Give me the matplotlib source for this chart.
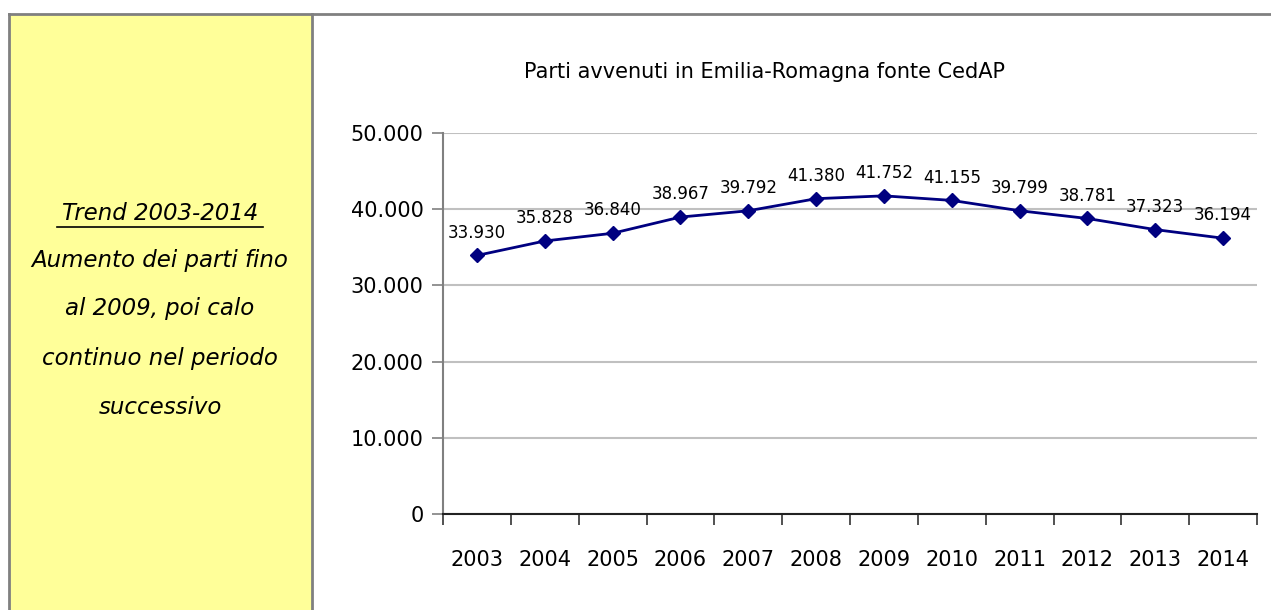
import numpy as np
import matplotlib.pyplot as plt
from matplotlib.patches import Rectangle
from matplotlib.lines import Line2D
from matplotlib.ticker import FuncFormatter

# Parti per anno (fonte CedAP)
anni = ['2003', '2004', '2005', '2006', '2007', '2008',
        '2009', '2010', '2011', '2012', '2013', '2014']
parti = [33930, 35828, 36840, 38967, 39792, 41380,
         41752, 41155, 39799, 38781, 37323, 36194]

titolo = "Parti avvenuti in Emilia-Romagna fonte CedAP"
nota = ["Aumento dei parti fino", "al 2009, poi calo",
        "continuo nel periodo", "successivo"]


def punti_migliaia(v, pos=None):
    return f"{int(v):,}".replace(",", ".")


fig = plt.figure(figsize=(12.71, 6.10), dpi=100)
W, H = 1271, 610

# pannello giallo a sinistra e cornice
fig.add_artist(Rectangle((9 / W, 0), (312 - 9) / W, 1 - 14 / H,
                         transform=fig.transFigure, facecolor='#ffff99',
                         edgecolor='none', zorder=0))
grigio = '#808080'
fig.add_artist(Line2D([9 / W, 1], [1 - 14 / H, 1 - 14 / H], color=grigio, lw=2))
fig.add_artist(Line2D([9 / W, 9 / W], [0, 1 - 14 / H], color=grigio, lw=2))
fig.add_artist(Line2D([312 / W, 312 / W], [0, 1 - 14 / H], color=grigio, lw=2))

# testo del pannello
cx = 160 / W
fig.text(cx, 1 - 213 / H, "Trend 2003-2014", ha='center', va='center',
         fontsize=16.5, style='italic')
fig.add_artist(Line2D([(160 - 103) / W, (160 + 103) / W],
                      [1 - 227 / H, 1 - 227 / H], color='black', lw=1.2))
for i, riga in enumerate(nota):
    fig.text(cx, 1 - (260 + 49 * i) / H, riga, ha='center', va='center',
             fontsize=16.5, style='italic')

# grafico
ax = fig.add_axes([443 / W, 1 - 514 / H, (1257 - 443) / W, (514 - 133) / H])
x = np.arange(len(anni))
ax.plot(x, parti, color='#000080', lw=2, marker='D', markersize=7, zorder=3)
for xi, v in zip(x, parti):
    ax.annotate(punti_migliaia(v), (xi, v), xytext=(0, 10),
                textcoords='offset points', ha='center', va='bottom',
                fontsize=12)

ax.set_xlim(-0.5, len(anni) - 0.5)
ax.set_ylim(0, 50000)
ax.set_yticks(np.arange(0, 50001, 10000))
ax.yaxis.set_major_formatter(FuncFormatter(punti_migliaia))
ax.grid(axis='y', color='#c0c0c0', lw=1.5)
ax.set_axisbelow(True)

ax.set_xticks(x)
ax.set_xticklabels(anni)
ax.set_xticks(np.arange(-0.5, len(anni)), minor=True)
ax.tick_params(axis='x', which='major', length=0, pad=26, labelsize=15)
ax.tick_params(axis='x', which='minor', length=8, width=1.2, color='#333333')
ax.tick_params(axis='y', length=8, width=1.2, color=grigio, labelsize=15, pad=6)

for lato in ['top', 'right']:
    ax.spines[lato].set_visible(False)
ax.spines['left'].set_color(grigio)
ax.spines['left'].set_linewidth(1.5)
ax.spines['bottom'].set_color('#222222')
ax.spines['bottom'].set_linewidth(1.5)

fig.text(764 / W, 1 - 72 / H, titolo, ha='center', va='center', fontsize=15)

fig.savefig('out.png', dpi=100)
